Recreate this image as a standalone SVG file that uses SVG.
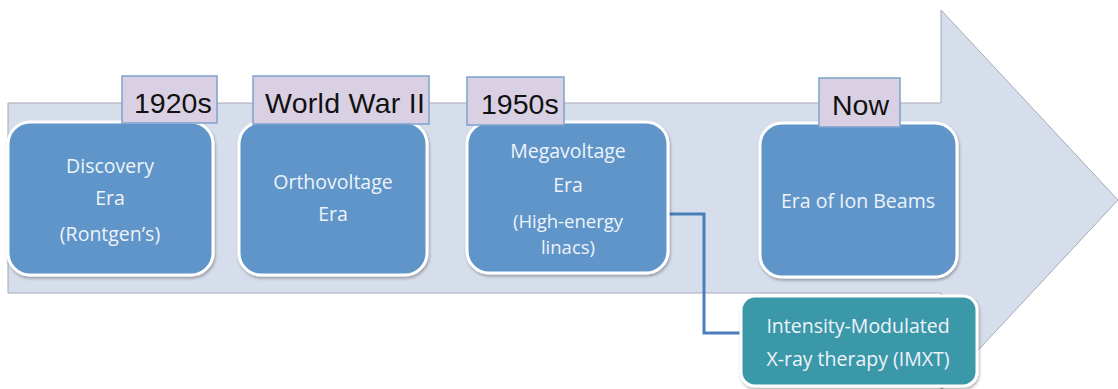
<svg xmlns="http://www.w3.org/2000/svg" width="1118" height="389" viewBox="0 0 1118 389">
<defs>
<filter id="sh" x="-10%" y="-10%" width="125%" height="130%">
<feDropShadow dx="1" dy="2" stdDeviation="1.5" flood-color="#000" flood-opacity="0.3"/>
</filter>
<style>
.arrow{fill:#d7deeb;stroke:#a3aab6;stroke-width:1}
.era{fill:#5f95c8;stroke:#fff;stroke-width:3;filter:url(#sh)}
.imxt{fill:#3b98a9;stroke:#fff;stroke-width:3;filter:url(#sh)}
.lab{fill:#d9d1e3;stroke:#7ea1cd;stroke-width:1.5}
.lt{font-family:"Liberation Sans",Arial,sans-serif;font-size:28.5px;fill:#111}
.bt{font-family:"Open Sans","Liberation Sans",sans-serif;font-size:19.5px;fill:#eef3fa;text-anchor:middle}
.sm{font-size:18.5px}
.conn{fill:none;stroke:#4a7eba;stroke-width:3}
</style>
</defs>
<path class="arrow" d="M8,103 H941 V10 L1118,200 L941,390 V293 H8 Z"/>
<g id="connectors">
<path class="conn" d="M668,214 H704 V333 H741"/>
</g>
<g id="discovery">
<rect class="era" x="8" y="122" width="205" height="153" rx="22"/>
<text class="bt" x="110" y="173">Discovery</text>
<text class="bt" x="110" y="205">Era</text>
<text class="bt" x="110" y="241">(Rontgen’s)</text>
</g>
<g id="orthovoltage">
<rect class="era" x="239" y="122" width="188" height="153" rx="22"/>
<text class="bt" x="333" y="189">Orthovoltage</text>
<text class="bt" x="333" y="221">Era</text>
</g>
<g id="megavoltage">
<rect class="era" x="467" y="122" width="201" height="151" rx="22"/>
<text class="bt" x="568" y="158">Megavoltage</text>
<text class="bt" x="568" y="192">Era</text>
<text class="bt sm" x="568" y="228">(High-energy</text>
<text class="bt sm" x="568" y="254">linacs)</text>
</g>
<g id="ionbeams">
<rect class="era" x="760" y="123" width="197" height="154" rx="22"/>
<text class="bt" x="858" y="208">Era of Ion Beams</text>
</g>
<g id="imxt">
<rect class="imxt" x="741" y="296" width="236" height="90" rx="14"/>
<text class="bt" x="858" y="333">Intensity-Modulated</text>
<text class="bt" x="858" y="366">X-ray therapy (IMXT)</text>
</g>
<g id="label-1920s">
<rect class="lab" x="122" y="76" width="95" height="47"/>
<text class="lt" x="134" y="113">1920s</text>
</g>
<g id="label-ww2">
<rect class="lab" x="253" y="76" width="176" height="48"/>
<text class="lt" x="265" y="113" textLength="160">World War II</text>
</g>
<g id="label-1950s">
<rect class="lab" x="467" y="77" width="97" height="48"/>
<text class="lt" x="481" y="114">1950s</text>
</g>
<g id="label-now">
<rect class="lab" x="819" y="78" width="81" height="49"/>
<text class="lt" x="832" y="115">Now</text>
</g>
</svg>
